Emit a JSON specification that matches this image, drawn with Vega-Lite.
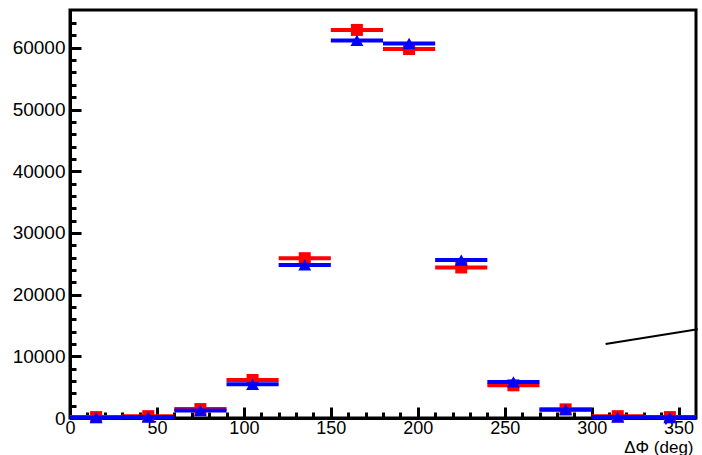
{
  "$schema": "https://vega.github.io/schema/vega-lite/v6.json",
  "autosize": {"type": "none"},
  "width": 626,
  "height": 408,
  "padding": {"left": 70, "top": 10, "right": 6, "bottom": 37},
  "background": "white",
  "config": {
    "font": "Liberation Sans",
    "view": {"stroke": "black", "strokeWidth": 3},
    "axis": {"labelFont": "Liberation Sans", "titleFont": "Liberation Sans", "labelColor": "black", "titleColor": "black", "grid": false}
  },
  "datasets": {
    "bins": [
      {"set": "A", "lo": 0, "hi": 30, "phi": 15, "count": 150},
      {"set": "A", "lo": 30, "hi": 60, "phi": 45, "count": 300},
      {"set": "A", "lo": 60, "hi": 90, "phi": 75, "count": 1450},
      {"set": "A", "lo": 90, "hi": 120, "phi": 105, "count": 6160},
      {"set": "A", "lo": 120, "hi": 150, "phi": 135, "count": 25900},
      {"set": "A", "lo": 150, "hi": 180, "phi": 165, "count": 62900},
      {"set": "A", "lo": 180, "hi": 210, "phi": 195, "count": 59800},
      {"set": "A", "lo": 210, "hi": 240, "phi": 225, "count": 24400},
      {"set": "A", "lo": 240, "hi": 270, "phi": 255, "count": 5300},
      {"set": "A", "lo": 270, "hi": 300, "phi": 285, "count": 1400},
      {"set": "A", "lo": 300, "hi": 330, "phi": 315, "count": 300},
      {"set": "A", "lo": 330, "hi": 360, "phi": 345, "count": 150},
      {"set": "B", "lo": 0, "hi": 30, "phi": 15, "count": 50},
      {"set": "B", "lo": 30, "hi": 60, "phi": 45, "count": 150},
      {"set": "B", "lo": 60, "hi": 90, "phi": 75, "count": 1200},
      {"set": "B", "lo": 90, "hi": 120, "phi": 105, "count": 5460},
      {"set": "B", "lo": 120, "hi": 150, "phi": 135, "count": 24800},
      {"set": "B", "lo": 150, "hi": 180, "phi": 165, "count": 61200},
      {"set": "B", "lo": 180, "hi": 210, "phi": 195, "count": 60700},
      {"set": "B", "lo": 210, "hi": 240, "phi": 225, "count": 25600},
      {"set": "B", "lo": 240, "hi": 270, "phi": 255, "count": 5850},
      {"set": "B", "lo": 270, "hi": 300, "phi": 285, "count": 1350},
      {"set": "B", "lo": 300, "hi": 330, "phi": 315, "count": 150},
      {"set": "B", "lo": 330, "hi": 360, "phi": 345, "count": 80}
    ],
    "pointer": [
      {"x1": 308, "y1": 12000, "x2": 361, "y2": 14400}
    ]
  },
  "resolve": {"axis": {"x": "independent", "y": "independent"}},
  "layer": [
    {
      "data": {"name": "bins"},
      "transform": [{"filter": "datum.set === 'A'"}],
      "mark": {"type": "rule", "color": "#ff0000", "strokeWidth": 4},
      "encoding": {
        "x": {"field": "lo", "type": "quantitative",
              "scale": {"domain": [0, 360], "nice": false, "zero": false},
              "axis": {"orient": "bottom", "values": [0, 50, 100, 150, 200, 250, 300, 350],
                       "format": "d",
                       "title": "ΔΦ (deg)", "titleAnchor": "end", "titleAlign": "right",
                       "titleBaseline": "middle", "titleX": 623, "titleY": 29,
                       "titleFontSize": 17, "titleFontWeight": "normal",
                       "labelFontSize": 18, "labelPadding": 12, "labelFlush": false,
                       "tickSize": -11, "tickWidth": 3, "tickColor": "black",
                       "domainColor": "black", "domainWidth": 3}},
        "x2": {"field": "hi"},
        "y": {"field": "count", "type": "quantitative",
              "scale": {"domain": [0, 66130], "nice": false, "zero": true},
              "axis": {"orient": "left", "values": [0, 10000, 20000, 30000, 40000, 50000, 60000],
                       "format": "d",
                       "title": null, "labelFontSize": 19, "labelPadding": 16,
                       "tickSize": -11, "tickWidth": 3, "tickColor": "black",
                       "domainColor": "black", "domainWidth": 3}}
      }
    },
    {
      "data": {"name": "bins"},
      "transform": [{"filter": "datum.set === 'A'"}],
      "mark": {"type": "point", "shape": "square", "filled": true, "color": "#ff0000", "size": 144, "opacity": 1},
      "encoding": {
        "x": {"field": "phi", "type": "quantitative", "axis": null},
        "y": {"field": "count", "type": "quantitative", "axis": null}
      }
    },
    {
      "data": {"name": "bins"},
      "transform": [{"filter": "datum.set === 'B'"}],
      "mark": {"type": "rule", "color": "#0000ff", "strokeWidth": 4},
      "encoding": {
        "x": {"field": "lo", "type": "quantitative",
              "axis": {"orient": "bottom", "values": [10, 20, 30, 40, 60, 70, 80, 90, 110, 120, 130, 140, 160, 170, 180, 190, 210, 220, 230, 240, 260, 270, 280, 290, 310, 320, 330, 340],
                       "title": null, "labels": false, "domain": false,
                       "tickSize": -6, "tickWidth": 3, "tickColor": "black"}},
        "x2": {"field": "hi"},
        "y": {"field": "count", "type": "quantitative",
              "axis": {"orient": "left", "values": [2000, 4000, 6000, 8000, 12000, 14000, 16000, 18000, 22000, 24000, 26000, 28000, 32000, 34000, 36000, 38000, 42000, 44000, 46000, 48000, 52000, 54000, 56000, 58000, 62000, 64000],
                       "title": null, "labels": false, "domain": false,
                       "tickSize": -6, "tickWidth": 3, "tickColor": "black"}}
      }
    },
    {
      "data": {"name": "bins"},
      "transform": [{"filter": "datum.set === 'B'"}],
      "mark": {"type": "point", "shape": "triangle-up", "filled": true, "color": "#0000ff", "size": 169, "opacity": 1},
      "encoding": {
        "x": {"field": "phi", "type": "quantitative", "axis": null},
        "y": {"field": "count", "type": "quantitative", "axis": null}
      }
    },
    {
      "data": {"name": "pointer"},
      "mark": {"type": "rule", "color": "black", "strokeWidth": 2, "clip": false},
      "encoding": {
        "x": {"field": "x1", "type": "quantitative", "axis": null},
        "y": {"field": "y1", "type": "quantitative", "axis": null},
        "x2": {"field": "x2"},
        "y2": {"field": "y2"}
      }
    }
  ]
}
